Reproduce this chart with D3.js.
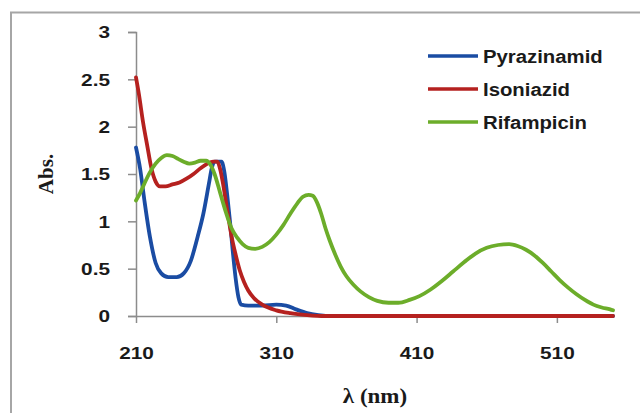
<!DOCTYPE html>
<html>
<head>
<meta charset="utf-8">
<script src="https://cdn.jsdelivr.net/npm/d3@7"></script>
<style>
  body { margin: 0; background: #fff; }
  svg { display: block; }
</style>
</head>
<body>
<div id="chart"></div>
<script>
// spectra: wavelength (nm) and absorbance
const pyrWave = [210, 213, 216, 220, 224, 228, 233, 239, 244, 249, 254, 258, 262, 264, 266, 271, 273, 275, 277, 279, 281, 283, 285, 290, 300, 310, 317, 324, 332, 340, 350, 550];
const pyrAbs  = [1.78, 1.55, 1.22, 0.83, 0.56, 0.45, 0.41, 0.41, 0.45, 0.58, 0.84, 1.08, 1.40, 1.56, 1.63, 1.63, 1.52, 1.28, 1.00, 0.68, 0.40, 0.20, 0.12, 0.11, 0.11, 0.12, 0.11, 0.07, 0.03, 0.01, 0, 0];

const isoWave = [210, 212, 215, 218, 221, 224, 227, 231, 236, 241, 246, 251, 256, 261, 265, 268, 270, 272, 275, 278, 281, 284, 287, 290, 294, 300, 310, 320, 332, 345, 550];
const isoAbs  = [2.52, 2.35, 2.05, 1.80, 1.56, 1.42, 1.37, 1.37, 1.39, 1.41, 1.45, 1.50, 1.56, 1.61, 1.63, 1.63, 1.55, 1.40, 1.12, 0.85, 0.65, 0.48, 0.36, 0.27, 0.19, 0.12, 0.06, 0.03, 0.01, 0, 0];

const rifWave = [210, 213, 216, 220, 224, 228, 232, 236, 240, 244, 248, 252, 256, 260, 263, 266, 270, 274, 278, 282, 286, 290, 295, 300, 305, 310, 315, 320, 325, 329, 333, 336, 339, 342, 345, 348, 352, 356, 360, 365, 370, 376, 382, 390, 397, 405, 412, 420, 428, 436, 444, 452, 460, 468, 476, 482, 488, 494, 500, 506, 512, 518, 524, 530, 536, 542, 548, 550];
const rifAbs  = [1.22, 1.30, 1.40, 1.52, 1.61, 1.67, 1.70, 1.69, 1.66, 1.63, 1.61, 1.62, 1.64, 1.64, 1.60, 1.50, 1.30, 1.10, 0.93, 0.83, 0.76, 0.72, 0.71, 0.73, 0.78, 0.86, 0.96, 1.08, 1.19, 1.26, 1.28, 1.27, 1.20, 1.08, 0.93, 0.80, 0.65, 0.52, 0.42, 0.33, 0.26, 0.20, 0.16, 0.14, 0.14, 0.17, 0.21, 0.28, 0.37, 0.47, 0.57, 0.66, 0.72, 0.75, 0.76, 0.74, 0.70, 0.64, 0.56, 0.47, 0.38, 0.30, 0.23, 0.17, 0.12, 0.09, 0.07, 0.06];

const seriesNames = ['Pyrazinamid', 'Isoniazid', 'Rifampicin'];
const xTicks = [210, 310, 410, 510];
const yTicks = [0, 0.5, 1, 1.5, 2, 2.5, 3];

const colors = ['#1a4ca3', '#b5211f', '#6cad2a'];

const W = 640, H = 413,
	margin = {top: 32, right: 27, bottom: 97, left: 136},
	width = W - margin.left - margin.right,
	height = H - margin.top - margin.bottom;

const svg = d3.select('#chart')
	.append('svg')
	.attr('width', W)
	.attr('height', H);

// outer frame (only left and top edge are inside the picture)
svg.append('rect')
	.attr('x', 11).attr('y', 12.5)
	.attr('width', 700).attr('height', 500)
	.attr('fill', 'none')
	.attr('stroke', '#a6a6a6')
	.attr('stroke-width', 2);

const g = svg.append('g')
	.attr('transform', `translate(${margin.left},${margin.top})`);

const x = d3.scaleLinear().domain([210, 550]).range([0, width]);
const y = d3.scaleLinear().domain([0, 3]).range([height, 0]);

const sx = 1.3; // the source picture is stretched sideways

// y axis
const yAxis = g.append('g')
	.call(d3.axisLeft(y).tickValues(yTicks).tickSize(8).tickPadding(0)
		.tickFormat(d => d === 0 ? '0' : d3.format('')(d)));
yAxis.select('.domain').attr('stroke', '#8c8c8c').attr('stroke-width', 1.5);
yAxis.selectAll('.tick line').attr('stroke', '#8c8c8c').attr('stroke-width', 1.5);
yAxis.selectAll('.tick text')
	.attr('x', -26 / sx)
	.attr('dy', '0.36em')
	.attr('transform', `scale(${sx},1)`)
	.style('font-family', '"Liberation Sans", Arial, sans-serif')
	.style('font-size', '16px')
	.style('font-weight', 'bold')
	.attr('fill', '#1a1a1a');

// x axis
const xAxis = g.append('g')
	.attr('transform', `translate(0,${height})`)
	.call(d3.axisBottom(x).tickValues(xTicks).tickSize(7).tickPadding(0).tickSizeOuter(0));
xAxis.select('.domain').attr('stroke', '#8c8c8c').attr('stroke-width', 1.5);
xAxis.selectAll('.tick line').attr('stroke', '#8c8c8c').attr('stroke-width', 1.5);
xAxis.selectAll('.tick text')
	.attr('y', 43)
	.attr('dy', 0)
	.attr('transform', `scale(${sx},1)`)
	.style('font-family', '"Liberation Sans", Arial, sans-serif')
	.style('font-size', '16px')
	.style('font-weight', 'bold')
	.attr('fill', '#1a1a1a');

// curves
const line = d3.line()
	.x(d => x(d[0]))
	.y(d => y(d[1]))
	.curve(d3.curveMonotoneX);

const series = [
	d3.zip(pyrWave, pyrAbs),
	d3.zip(isoWave, isoAbs),
	d3.zip(rifWave, rifAbs)
];

// draw order: blue, red, green on top
series.forEach((s, i) => {
	g.append('path')
		.datum(s)
		.attr('d', line)
		.attr('fill', 'none')
		.attr('stroke', colors[i])
		.attr('stroke-width', 3.8)
		.attr('stroke-linejoin', 'round')
		.attr('stroke-linecap', 'round');
});

// axis titles
svg.append('text')
	.attr('transform', 'translate(53,174) rotate(-90)')
	.attr('text-anchor', 'middle')
	.style('font-family', '"Liberation Serif", "Times New Roman", serif')
	.style('font-size', '21px')
	.style('font-weight', 'bold')
	.attr('fill', '#1a1a1a')
	.text('Abs.');

svg.append('text')
	.attr('transform', 'translate(375,403) scale(1.15,1)')
	.attr('text-anchor', 'middle')
	.style('font-family', '"Liberation Serif", "Times New Roman", serif')
	.style('font-size', '20px')
	.style('font-weight', 'bold')
	.attr('fill', '#1a1a1a')
	.text('λ (nm)');

// legend
const legend = svg.append('g').attr('transform', 'translate(428,56)');
seriesNames.forEach((name, i) => {
	const row = legend.append('g').attr('transform', `translate(0,${i * 33})`);
	row.append('line')
		.attr('x1', 0).attr('x2', 50)
		.attr('stroke', colors[i])
		.attr('stroke-width', 3.6);
	row.append('text')
		.attr('transform', 'translate(55,7) scale(1.13,1)')
		.style('font-family', '"Liberation Sans", Arial, sans-serif')
		.style('font-size', '18px')
		.style('font-weight', 'bold')
		.attr('fill', '#1a1a1a')
		.text(name);
});
</script>
</body>
</html>
